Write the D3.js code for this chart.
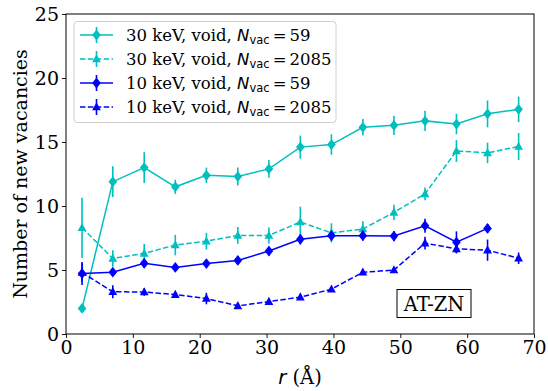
<!DOCTYPE html>
<html>
<head>
<meta charset="utf-8">
<script src="https://cdn.jsdelivr.net/npm/d3@7"></script>
<style>
  html, body { margin: 0; padding: 0; background: #fff; }
  svg { display: block; }
</style>
</head>
<body>
<svg id="chart" width="548" height="391"></svg>
<script>
// ---- data ----
const radii = [2.4, 7.0, 11.7, 16.35, 21.0, 25.7, 30.35, 35.05, 39.7, 44.4, 49.05, 53.7, 58.4, 63.05, 67.7];

const kev30_n59      = [2.0, 11.9, 13.0, 11.5, 12.4, 12.3, 12.9, 14.6, 14.8, 16.15, 16.3, 16.65, 16.4, 17.2, 17.55];
const kev30_n59_err  = [0.1, 1.2, 1.2, 0.55, 0.6, 0.7, 0.7, 0.9, 0.8, 0.65, 0.75, 0.8, 0.8, 1.05, 1.0];

const kev30_n2085     = [8.3, 5.9, 6.3, 6.95, 7.25, 7.7, 7.7, 8.75, 7.9, 8.2, 9.5, 10.95, 14.3, 14.15, 14.65];
const kev30_n2085_err = [2.35, 0.65, 0.73, 0.8, 0.65, 0.65, 0.62, 1.2, 0.75, 0.6, 0.6, 0.5, 0.85, 0.8, 1.05];

const kev10_n59      = [4.72, 4.83, 5.52, 5.2, 5.5, 5.75, 6.48, 7.4, 7.68, 7.68, 7.65, 8.46, 7.17, 8.25];
const kev10_n59_err  = [0.9, 0.3, 0.35, 0.3, 0.3, 0.3, 0.35, 0.4, 0.4, 0.4, 0.4, 0.55, 0.85, 0.35];

const kev10_n2085     = [4.8, 3.3, 3.28, 3.08, 2.77, 2.2, 2.53, 2.88, 3.5, 4.82, 5.0, 7.1, 6.65, 6.55, 5.92];
const kev10_n2085_err = [0.7, 0.5, 0.3, 0.2, 0.45, 0.2, 0.2, 0.2, 0.2, 0.2, 0.2, 0.5, 0.35, 0.83, 0.45];

const xTicks = [0, 10, 20, 30, 40, 50, 60, 70];
const yTicks = [0, 5, 10, 15, 20, 25];

const seriesInfo = [
  { energy: "30 keV", nvac: "59",   values: kev30_n59,   errs: kev30_n59_err,   color: "#00bfbf", dashed: false, marker: "diamond" },
  { energy: "30 keV", nvac: "2085", values: kev30_n2085, errs: kev30_n2085_err, color: "#00bfbf", dashed: true,  marker: "triangle" },
  { energy: "10 keV", nvac: "59",   values: kev10_n59,   errs: kev10_n59_err,   color: "#0000ff", dashed: false, marker: "diamond" },
  { energy: "10 keV", nvac: "2085", values: kev10_n2085, errs: kev10_n2085_err, color: "#0000ff", dashed: true,  marker: "triangle" }
];

// ---- layout ----
const svg = d3.select("#chart");
const pLeft = 66, pRight = 534, pTop = 14, pBottom = 334;
const x = d3.scaleLinear().domain([0, 70]).range([pLeft, pRight]);
const y = d3.scaleLinear().domain([0, 25]).range([pBottom, pTop]);
const serif = "'DejaVu Serif', serif";
const sans = "'DejaVu Sans', sans-serif";

// axes
const xAxis = svg.append("g").attr("transform", `translate(0,${pBottom})`)
  .call(d3.axisBottom(x).tickValues(xTicks).tickSize(4).tickPadding(3).tickSizeOuter(0));
const yAxis = svg.append("g").attr("transform", `translate(${pLeft},0)`)
  .call(d3.axisLeft(y).tickValues(yTicks).tickSize(4).tickPadding(3).tickSizeOuter(0));
[xAxis, yAxis].forEach(g => {
  g.select(".domain").remove();
  g.selectAll("line").attr("stroke", "#000").attr("stroke-width", 0.9);
  g.selectAll("text").attr("font-family", serif).attr("font-size", 19).attr("fill", "#000");
});

// frame
svg.append("rect").attr("x", pLeft).attr("y", pTop).attr("width", pRight - pLeft).attr("height", pBottom - pTop)
  .attr("fill", "none").attr("stroke", "#000").attr("stroke-width", 1);

// marker paths
const markerPath = {
  diamond: "M0,-5.4L4.3,0L0,5.4L-4.3,0Z",
  triangle: "M0,-4.8L4.4,3.3L-4.4,3.3Z"
};

const plot = svg.append("g");
const line = d3.line().x((d, i) => x(radii[i])).y(d => y(d));

seriesInfo.forEach(s => {
  const g = plot.append("g");
  g.selectAll("line.err").data(s.values).join("line")
    .attr("x1", (d, i) => x(radii[i])).attr("x2", (d, i) => x(radii[i]))
    .attr("y1", (d, i) => y(d - s.errs[i])).attr("y2", (d, i) => y(d + s.errs[i]))
    .attr("stroke", s.color).attr("stroke-width", 1.6);
  g.append("path").datum(s.values).attr("d", line)
    .attr("fill", "none").attr("stroke", s.color).attr("stroke-width", 1.5)
    .attr("stroke-dasharray", s.dashed ? "5.5,2.4" : null);
  g.selectAll("path.mk").data(s.values).join("path")
    .attr("d", markerPath[s.marker])
    .attr("transform", (d, i) => `translate(${x(radii[i])},${y(d)})`)
    .attr("fill", s.color);
});

// axis labels
svg.append("text").attr("transform", `translate(27,${(pTop + pBottom) / 2}) rotate(-90)`)
  .attr("text-anchor", "middle").attr("font-family", serif).attr("font-size", 19)
  .text("Number of new vacancies");

const xl = svg.append("text").attr("x", (pLeft + pRight) / 2).attr("y", 384)
  .attr("text-anchor", "middle").attr("font-family", serif).attr("font-size", 19.5);
xl.append("tspan").attr("font-family", sans).attr("font-style", "italic").text("r");
xl.append("tspan").text(" (Å)");

// legend
const lg = svg.append("g");
lg.append("rect").attr("x", 74).attr("y", 21.5).attr("width", 262).attr("height", 101)
  .attr("rx", 3).attr("fill", "#fff").attr("fill-opacity", 0.8)
  .attr("stroke", "#d0d0d0").attr("stroke-width", 1);
const rowY = [35, 59, 83, 107];
seriesInfo.forEach((s, k) => {
  const cy = rowY[k];
  const row = lg.append("g");
  row.append("line").attr("x1", 80).attr("x2", 113).attr("y1", cy).attr("y2", cy)
    .attr("stroke", s.color).attr("stroke-width", 1.5)
    .attr("stroke-dasharray", s.dashed ? "5.5,2.4" : null);
  row.append("line").attr("x1", 96.5).attr("x2", 96.5).attr("y1", cy - 8).attr("y2", cy + 8)
    .attr("stroke", s.color).attr("stroke-width", 1.6);
  row.append("path").attr("d", markerPath[s.marker]).attr("transform", `translate(96.5,${cy})`)
    .attr("fill", s.color);
  const t = row.append("text").attr("x", 126).attr("y", cy + 6)
    .attr("font-family", serif).attr("font-size", 16.5).attr("fill", "#000");
  t.append("tspan").text(`${s.energy}, void, `);
  t.append("tspan").attr("font-family", sans).attr("font-style", "italic").text("N");
  t.append("tspan").attr("font-family", sans).attr("font-size", 11.5).attr("dy", 3).text("vac");
  t.append("tspan").attr("dy", -3).attr("dx", 3).attr("font-family", sans).text("=");
  t.append("tspan").attr("dx", 3).text(s.nvac);
});

// annotation box
const ann = svg.append("g");
ann.append("rect").attr("x", 397).attr("y", 289.5).attr("width", 74).attr("height", 28)
  .attr("fill", "#fff").attr("stroke", "#000").attr("stroke-width", 1);
ann.append("text").attr("x", 434).attr("y", 310.5).attr("text-anchor", "middle")
  .attr("font-family", serif).attr("font-size", 19.5).text("AT-ZN");
</script>
</body>
</html>
